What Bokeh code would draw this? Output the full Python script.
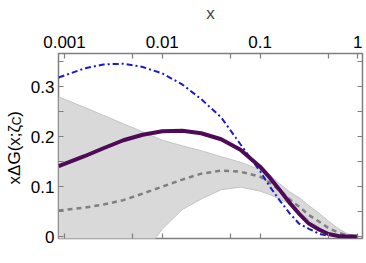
import math
from bokeh.plotting import figure
from bokeh.layouts import row
from bokeh.models import LogAxis, LinearAxis, FixedTicker, Range1d
from bokeh.core.properties import value
from bokeh.embed import file_html
from bokeh.resources import INLINE

# ---- data ----
x_vals = [0.00087, 0.0016, 0.0025, 0.004, 0.0063, 0.01, 0.016, 0.025, 0.04, 0.063,
          0.1, 0.126, 0.158, 0.2, 0.25, 0.316, 0.4, 0.5, 0.63, 0.79, 1.0]
central = [0.141, 0.161, 0.177, 0.193, 0.204, 0.211, 0.212, 0.207, 0.195, 0.174,
           0.140, 0.118, 0.094, 0.068, 0.046, 0.026, 0.014, 0.005, 0.001, 0.0, 0.0]
dashed_mid = [0.052, 0.058, 0.064, 0.073, 0.086, 0.100, 0.114, 0.126, 0.132, 0.130,
              0.120, 0.108, 0.093, 0.075, 0.060, 0.043, 0.030, 0.017, 0.008, 0.002, 0.0]
band_upper = [0.280, 0.259, 0.243, 0.226, 0.210, 0.193, 0.182, 0.172, 0.160, 0.149,
              0.134, 0.123, 0.106, 0.090, 0.078, 0.062, 0.047, 0.031, 0.016, 0.005, 0.0]
band_lower = [-0.176, -0.143, -0.115, -0.080, -0.038, 0.015, 0.054, 0.075, 0.094, 0.099,
              0.091, 0.084, 0.075, 0.066, 0.049, 0.034, 0.019, 0.008, 0.001, 0.0, 0.0]
x_blue = [0.00087, 0.0016, 0.0025, 0.004, 0.0063, 0.01, 0.016, 0.025, 0.04, 0.063,
          0.1, 0.126, 0.158, 0.2, 0.25, 0.316, 0.4, 0.5]
blue = [0.319, 0.337, 0.345, 0.3465, 0.340, 0.327, 0.305, 0.2755, 0.239, 0.185,
        0.131, 0.100, 0.073, 0.047, 0.026, 0.0155, 0.0055, 0.001]

x_ticks = [0.001, 0.005, 0.01, 0.05, 0.1, 0.5, 1]
x_tick_labels = ["0.001", "", "0.01", "", "0.1", "", "1"]
y_ticks = [0, 0.05, 0.1, 0.15, 0.2, 0.25, 0.3, 0.35]
y_tick_labels = ["0", "", "0.1", "", "0.2", "", "0.3", ""]
y_label_parts = ["xΔG(x;ζ", "C", ")"]

FONT = "Liberation Sans"
AX = "#7f7f7f"
LW, H = 27, 263

# ---- main plot ----
p = figure(width=366 - LW, height=H, x_axis_type="log", x_axis_location="above",
           x_range=Range1d(0.000868, 1.117), y_range=Range1d(-0.004, 0.367),
           output_backend="svg", toolbar_location=None,
           min_border_left=57 - LW, min_border_right=4, min_border_top=51, min_border_bottom=25)
p.xgrid.visible = False
p.ygrid.visible = False
p.outline_line_color = AX
p.outline_line_width = 1.5

p.varea(x=x_vals, y1=band_lower, y2=band_upper, fill_color="#d9d9d9")
p.line(x_vals, band_upper, line_color="#c4c4c4", line_width=1)
p.line(x_vals, band_lower, line_color="#c4c4c4", line_width=1)
p.line(x_vals, dashed_mid, line_color="#808080", line_width=2.5, line_dash="5 4")
p.line(x_blue, blue, line_color="#1a1acc", line_width=2, line_dash="6 3 2 3")
p.line(x_vals, central, line_color="#4f0a57", line_width=4)

def style(ax, labels, ticks):
    ax.ticker = FixedTicker(ticks=ticks)
    ax.major_label_overrides = {t: l for t, l in zip(ticks, labels)}
    ax.axis_line_color = None
    ax.major_tick_line_color = AX
    ax.major_tick_line_width = 1.2
    ax.major_tick_in = 5
    ax.major_tick_out = 0
    ax.minor_tick_line_color = None
    ax.major_label_text_font = FONT
    ax.major_label_text_font_size = "17px"
    ax.major_label_text_color = "black"

xa = p.xaxis[0]
style(xa, x_tick_labels, x_ticks)
xa.major_label_standoff = 6
xa.axis_label = "x"
xa.axis_label_text_font = FONT
xa.axis_label_text_font_style = "normal"
xa.axis_label_text_font_size = "17px"
xa.axis_label_standoff = 10

ya = p.yaxis[0]
style(ya, y_tick_labels, y_ticks)
ya.major_label_standoff = 4

bx = LogAxis()
style(bx, [""] * len(x_ticks), x_ticks)
bx.major_label_standoff = 0
bx.major_label_text_font_size = "0px"
p.add_layout(bx, "below")
ry = LinearAxis()
style(ry, [""] * len(y_ticks), y_ticks)
ry.major_label_standoff = 0
ry.major_label_text_font_size = "0px"
p.add_layout(ry, "right")

# ---- narrow panel holding the rotated y-axis title (shares the y range) ----
lab = figure(width=LW, height=H, x_range=Range1d(0, LW), y_range=p.y_range,
             x_axis_location=None, y_axis_location=None,
             output_backend="svg", toolbar_location=None,
             min_border_left=0, min_border_right=0, min_border_top=51, min_border_bottom=25,
             outline_line_color=None)
lab.grid.visible = False
txt_kw = dict(angle=math.pi / 2, text_font=value(FONT), text_color="black",
              text_align="left", text_baseline="middle")
lab.text(x=[13.5], y=[0.1044], text=[y_label_parts[0]], text_font_size="17px", **txt_kw)
lab.text(x=[16.0], y=[0.2230], text=[y_label_parts[1]], text_font_size="12px", **txt_kw)
lab.text(x=[13.5], y=[0.2403], text=[y_label_parts[2]], text_font_size="17px", **txt_kw)

layout = row(lab, p, spacing=0)
open("out.html", "w").write(file_html(layout, INLINE))
